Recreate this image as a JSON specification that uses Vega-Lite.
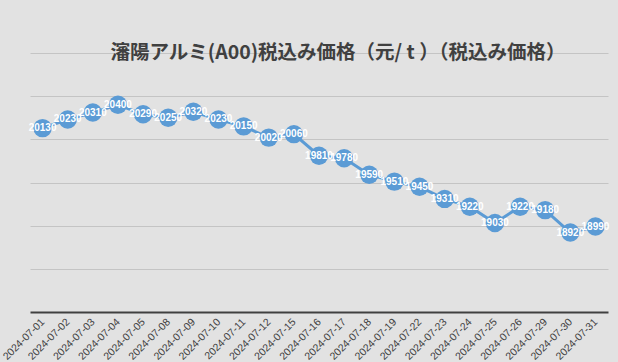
{
  "$schema": "https://vega.github.io/schema/vega-lite/v6.json",
  "width": 578,
  "height": 259,
  "autosize": {"type": "none"},
  "padding": {"left": 30, "top": 53, "right": 10, "bottom": 50},
  "background": "#e2e2e2",
  "title": {
    "text": "瀋陽アルミ(A00)税込み価格（元/ t ）（税込み価格）",
    "font": "Noto Sans CJK JP",
    "fontSize": 19.5,
    "fontWeight": "bold",
    "color": "#404040",
    "anchor": "middle",
    "dx": 19,
    "offset": -10
  },
  "data": {
    "values": [
      {"date": "2024-07-01", "price": 20130},
      {"date": "2024-07-02", "price": 20230},
      {"date": "2024-07-03", "price": 20310},
      {"date": "2024-07-04", "price": 20400},
      {"date": "2024-07-05", "price": 20290},
      {"date": "2024-07-08", "price": 20250},
      {"date": "2024-07-09", "price": 20320},
      {"date": "2024-07-10", "price": 20230},
      {"date": "2024-07-11", "price": 20150},
      {"date": "2024-07-12", "price": 20020},
      {"date": "2024-07-15", "price": 20060},
      {"date": "2024-07-16", "price": 19810},
      {"date": "2024-07-17", "price": 19780},
      {"date": "2024-07-18", "price": 19590},
      {"date": "2024-07-19", "price": 19510},
      {"date": "2024-07-22", "price": 19450},
      {"date": "2024-07-23", "price": 19310},
      {"date": "2024-07-24", "price": 19220},
      {"date": "2024-07-25", "price": 19030},
      {"date": "2024-07-26", "price": 19220},
      {"date": "2024-07-29", "price": 19180},
      {"date": "2024-07-30", "price": 18920},
      {"date": "2024-07-31", "price": 18990}
    ]
  },
  "encoding": {
    "x": {
      "field": "date",
      "type": "ordinal",
      "sort": null,
      "title": null,
      "scale": {"paddingInner": 0, "paddingOuter": 0},
      "axis": {
        "labelAngle": -45,
        "labelAlign": "right",
        "labelBaseline": "middle",
        "labelFontSize": 10.5,
        "labelColor": "#404040",
        "labelFont": "Liberation Sans",
        "labelPadding": 8,
        "ticks": false,
        "domainColor": "#404040",
        "domainWidth": 2,
        "grid": false
      }
    },
    "y": {
      "field": "price",
      "type": "quantitative",
      "title": null,
      "scale": {"domain": [18000, 21000], "zero": false},
      "axis": {
        "values": [18500, 19000, 19500, 20000, 20500, 21000],
        "labels": false,
        "ticks": false,
        "domain": false,
        "grid": true,
        "gridColor": "#c4c4c4",
        "gridWidth": 1
      }
    }
  },
  "layer": [
    {"mark": {"type": "line", "color": "#5b9bd5", "strokeWidth": 3}},
    {"mark": {"type": "point", "filled": true, "shape": "circle", "size": 340, "color": "#5b9bd5", "opacity": 1}},
    {
      "mark": {"type": "text", "color": "#ffffff", "fontSize": 10, "fontWeight": "bold", "font": "Liberation Sans", "align": "center", "baseline": "middle"},
      "encoding": {"text": {"field": "price", "type": "quantitative", "format": "d"}}
    }
  ],
  "config": {"view": {"stroke": null}}
}
